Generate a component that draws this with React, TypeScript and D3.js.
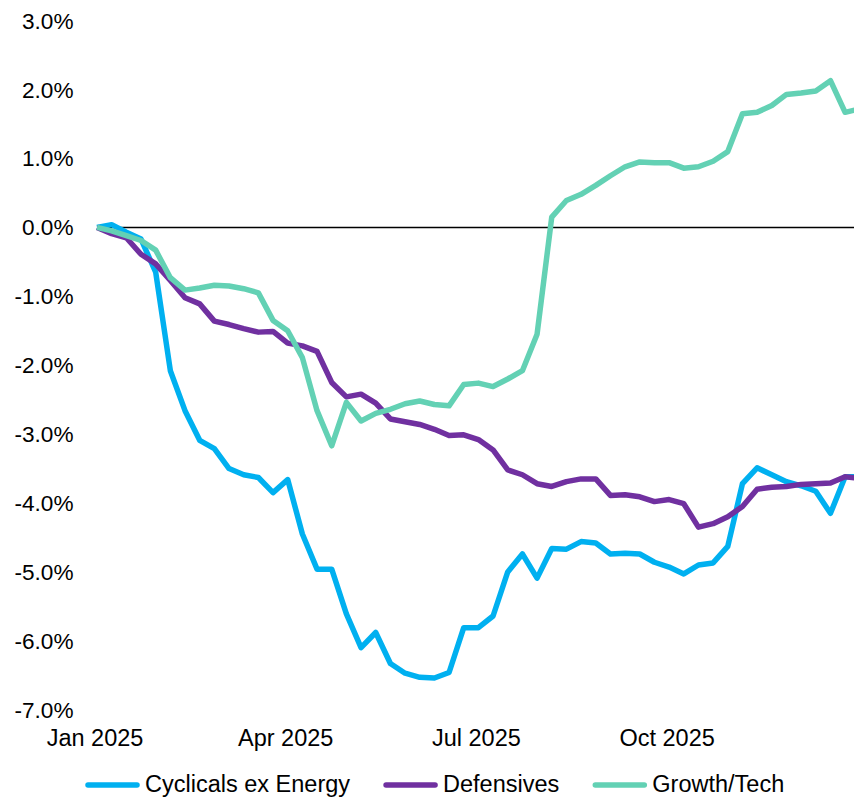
import React, { useEffect, useRef } from 'react';
import * as d3 from 'd3';

// weekly cumulative relative performance, % (week 0 = start of Jan 2025)
const cyclicals = [
  0.00, 0.04, -0.07, -0.17, -0.65, -2.08, -2.66, -3.09, -3.21, -3.50,
  -3.59, -3.63, -3.85, -3.66, -4.45, -4.96, -4.96, -5.61, -6.10, -5.88,
  -6.33, -6.47, -6.53, -6.54, -6.46, -5.81, -5.81, -5.64, -5.00, -4.74,
  -5.09, -4.66, -4.67, -4.56, -4.58, -4.74, -4.73, -4.74, -4.86, -4.93,
  -5.03, -4.90, -4.87, -4.63, -3.72, -3.49, -3.59, -3.69, -3.75, -3.83,
  -4.15, -3.62, -3.62
];
const defensives = [
  0.00, -0.09, -0.15, -0.39, -0.53, -0.77, -1.02, -1.11, -1.36, -1.41,
  -1.47, -1.52, -1.51, -1.68, -1.72, -1.80, -2.25, -2.46, -2.42, -2.55,
  -2.78, -2.82, -2.86, -2.93, -3.02, -3.01, -3.08, -3.23, -3.52, -3.59,
  -3.72, -3.76, -3.69, -3.65, -3.65, -3.89, -3.88, -3.91, -3.98, -3.95,
  -4.01, -4.35, -4.30, -4.20, -4.05, -3.80, -3.77, -3.76, -3.73, -3.72,
  -3.71, -3.62, -3.64
];
const growthTech = [
  0.00, -0.05, -0.12, -0.19, -0.33, -0.73, -0.91, -0.88, -0.84, -0.85,
  -0.89, -0.95, -1.35, -1.50, -1.89, -2.66, -3.17, -2.54, -2.81, -2.70,
  -2.64, -2.56, -2.52, -2.57, -2.59, -2.28, -2.26, -2.31, -2.20, -2.08,
  -1.55, 0.15, 0.39, 0.48, 0.61, 0.75, 0.88, 0.95, 0.94, 0.94,
  0.86, 0.88, 0.96, 1.10, 1.65, 1.67, 1.77, 1.93, 1.95, 1.98,
  2.13, 1.67, 1.72
];

const seriesNames = ['Cyclicals ex Energy', 'Defensives', 'Growth/Tech'];
const seriesColors = ['#00B0F0', '#7030A0', '#63D1B4'];

const tickLabels = ['Jan 2025', 'Apr 2025', 'Jul 2025', 'Oct 2025'];
const tickWeeks = [0, 13, 26, 39];
const yTicks = [3, 2, 1, 0, -1, -2, -3, -4, -5, -6, -7];

const FONT = "Arial, 'Liberation Sans', sans-serif";

function Chart() {
  const ref = useRef<SVGSVGElement | null>(null);

  useEffect(() => {
    const svg = d3.select(ref.current);
    svg.selectAll('*').remove();

    const allSeries = [cyclicals, defensives, growthTech];
    const n = cyclicals.length;

    // the last week runs a little past the right edge, as in the original
    const x = d3.scaleLinear().domain([0, n - 1]).range([97, 859.8]);
    const y = d3.scaleLinear().domain([-7, 3]).range([709.7, 20.7]);

    // y labels
    svg.append('g')
      .selectAll('text')
      .data(yTicks)
      .enter()
      .append('text')
      .attr('x', 73.5)
      .attr('y', (d) => y(d))
      .attr('dy', '0.35em')
      .attr('text-anchor', 'end')
      .attr('font-family', FONT)
      .attr('font-size', 22.6)
      .attr('fill', '#000')
      .text((d) => d.toFixed(1) + '%');

    // zero line
    svg.append('line')
      .attr('x1', x(0))
      .attr('x2', 854)
      .attr('y1', y(0))
      .attr('y2', y(0))
      .attr('stroke', '#000')
      .attr('stroke-width', 1.5);

    // x labels
    svg.append('g')
      .selectAll('text')
      .data(tickLabels)
      .enter()
      .append('text')
      .attr('x', (d, i) => x(tickWeeks[i]) - 2)
      .attr('y', 746)
      .attr('text-anchor', 'middle')
      .attr('font-family', FONT)
      .attr('font-size', 23.5)
      .attr('fill', '#000')
      .text((d) => d);

    const line = d3.line<number>()
      .x((d, i) => x(i))
      .y((d) => y(d));

    allSeries.forEach((s, k) => {
      svg.append('path')
        .datum(s)
        .attr('d', line)
        .attr('fill', 'none')
        .attr('stroke', seriesColors[k])
        .attr('stroke-width', 5.5)
        .attr('stroke-linejoin', 'round');
    });

    // legend
    const legend = svg.append('g');
    let lx = 85;
    seriesNames.forEach((name, k) => {
      legend.append('line')
        .attr('x1', lx + 3)
        .attr('x2', lx + 52)
        .attr('y1', 785)
        .attr('y2', 785)
        .attr('stroke', seriesColors[k])
        .attr('stroke-width', 5.5)
        .attr('stroke-linecap', 'round');
      const t = legend.append('text')
        .attr('x', lx + 60)
        .attr('y', 792)
        .attr('font-family', FONT)
        .attr('font-size', 23.5)
        .attr('fill', '#000')
        .text(name);
      const w = (t.node() as SVGTextElement).getComputedTextLength();
      lx = lx + 60 + w + 33;
    });
  }, []);

  return <svg ref={ref} width={854} height={800} style={{ display: 'block' }} />;
}

export default function App() {
  return (
    <div style={{ position: 'absolute', left: 0, top: 0, background: '#fff' }}>
      <Chart />
    </div>
  );
}
